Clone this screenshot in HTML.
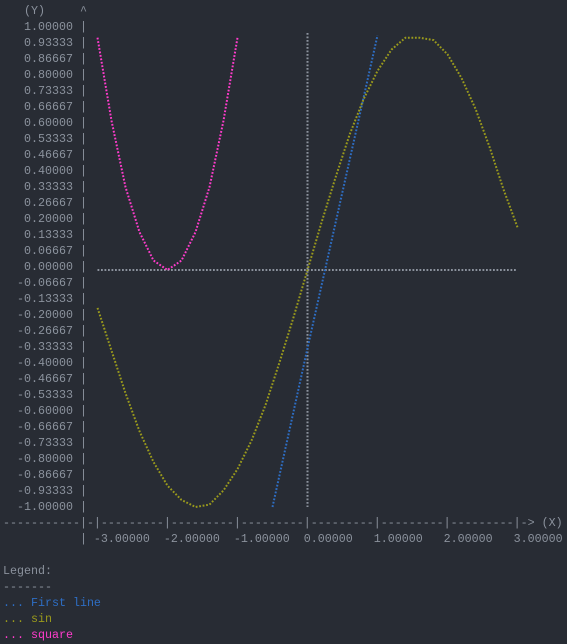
<!DOCTYPE html>
<html><head><meta charset="utf-8">
<style>
html,body{margin:0;padding:0;background:#282c34;width:567px;height:644px;overflow:hidden}
pre{position:absolute;left:3px;top:3px;margin:0;font-family:"Liberation Mono",monospace;font-size:11.67px;line-height:16px;color:#8b929d;white-space:pre}
svg{position:absolute;left:0;top:0}
.b{color:#2e6ec4}.s{color:#9a9a1c}.m{color:#ff3ccc}
</style></head><body>
<pre><span>   (Y)     ^</span>
<span>   1.00000 |
   0.93333 |
   0.86667 |
   0.80000 |
   0.73333 |
   0.66667 |
   0.60000 |
   0.53333 |
   0.46667 |
   0.40000 |
   0.33333 |
   0.26667 |
   0.20000 |
   0.13333 |
   0.06667 |
   0.00000 |
  -0.06667 |
  -0.13333 |
  -0.20000 |
  -0.26667 |
  -0.33333 |
  -0.40000 |
  -0.46667 |
  -0.53333 |
  -0.60000 |
  -0.66667 |
  -0.73333 |
  -0.80000 |
  -0.86667 |
  -0.93333 |
  -1.00000 |</span>
<span>-----------|-|---------|---------|---------|---------|---------|---------|-> (X)</span>
<span>           | -3.00000  -2.00000  -1.00000  0.00000   1.00000   2.00000   3.00000</span>

<span>Legend:
-------</span>
<span class="b">... First line</span>
<span class="s">... sin</span>
<span class="m">... square</span></pre>
<svg id="plot" width="567" height="644"></svg>
<script>
const sinX=[-3,-2.8,-2.6,-2.4,-2.2,-2,-1.8,-1.6,-1.4,-1.2,-1,-0.8,-0.6,-0.4,-0.2,0,0.2,0.4,0.6,0.8,1,1.2,1.4,1.6,1.8,2,2.2,2.4,2.6,2.8,3];
const sinY=[-0.16,-0.34,-0.52,-0.68,-0.81,-0.91,-0.97,-1,-0.99,-0.93,-0.84,-0.72,-0.57,-0.39,-0.2,0,0.2,0.39,0.57,0.72,0.84,0.93,0.98,0.98,0.97,0.91,0.81,0.68,0.52,0.34,0.18];
const sqX=[-3,-2.8,-2.6,-2.4,-2.2,-2,-1.8,-1.6,-1.4,-1.2,-1];
const sqY=[0.98,0.63,0.35,0.16,0.04,0,0.04,0.16,0.35,0.63,0.98];
const lineX=[-0.5,0,0.5,1];
const lineY=[-1,-0.33,0.33,0.99];
const xMin=-3,xMax=3;
const svg=document.getElementById('plot');
const NS='http://www.w3.org/2000/svg';
function sx(x){return 307.5+(x)*70;}
function sy(y){return 270-237*y;}
function path(xs,ys,color,name){
  let d='';
  for(let i=0;i<xs.length;i++){d+=(i?'L':'M')+sx(xs[i]).toFixed(1)+' '+sy(ys[i]).toFixed(1);}
  const p=document.createElementNS(NS,'path');
  p.setAttribute('d',d);p.setAttribute('fill','none');p.setAttribute('stroke',color);
  p.setAttribute('stroke-width','2');p.setAttribute('stroke-dasharray','1.8 1.7');
  
  
  svg.appendChild(p);
}
path([xMin,xMax],[0,0],'#8b929d','x-zero-axis');
path([0,0],[1,-1],'#8b929d','y-zero-axis');
path(lineX,lineY,'#2e6ec4','first-line-series');
path(sinX,sinY,'#9a9a1c','sin-series');
path(sqX,sqY,'#ff3ccc','square-series');
</script>
</body></html>
